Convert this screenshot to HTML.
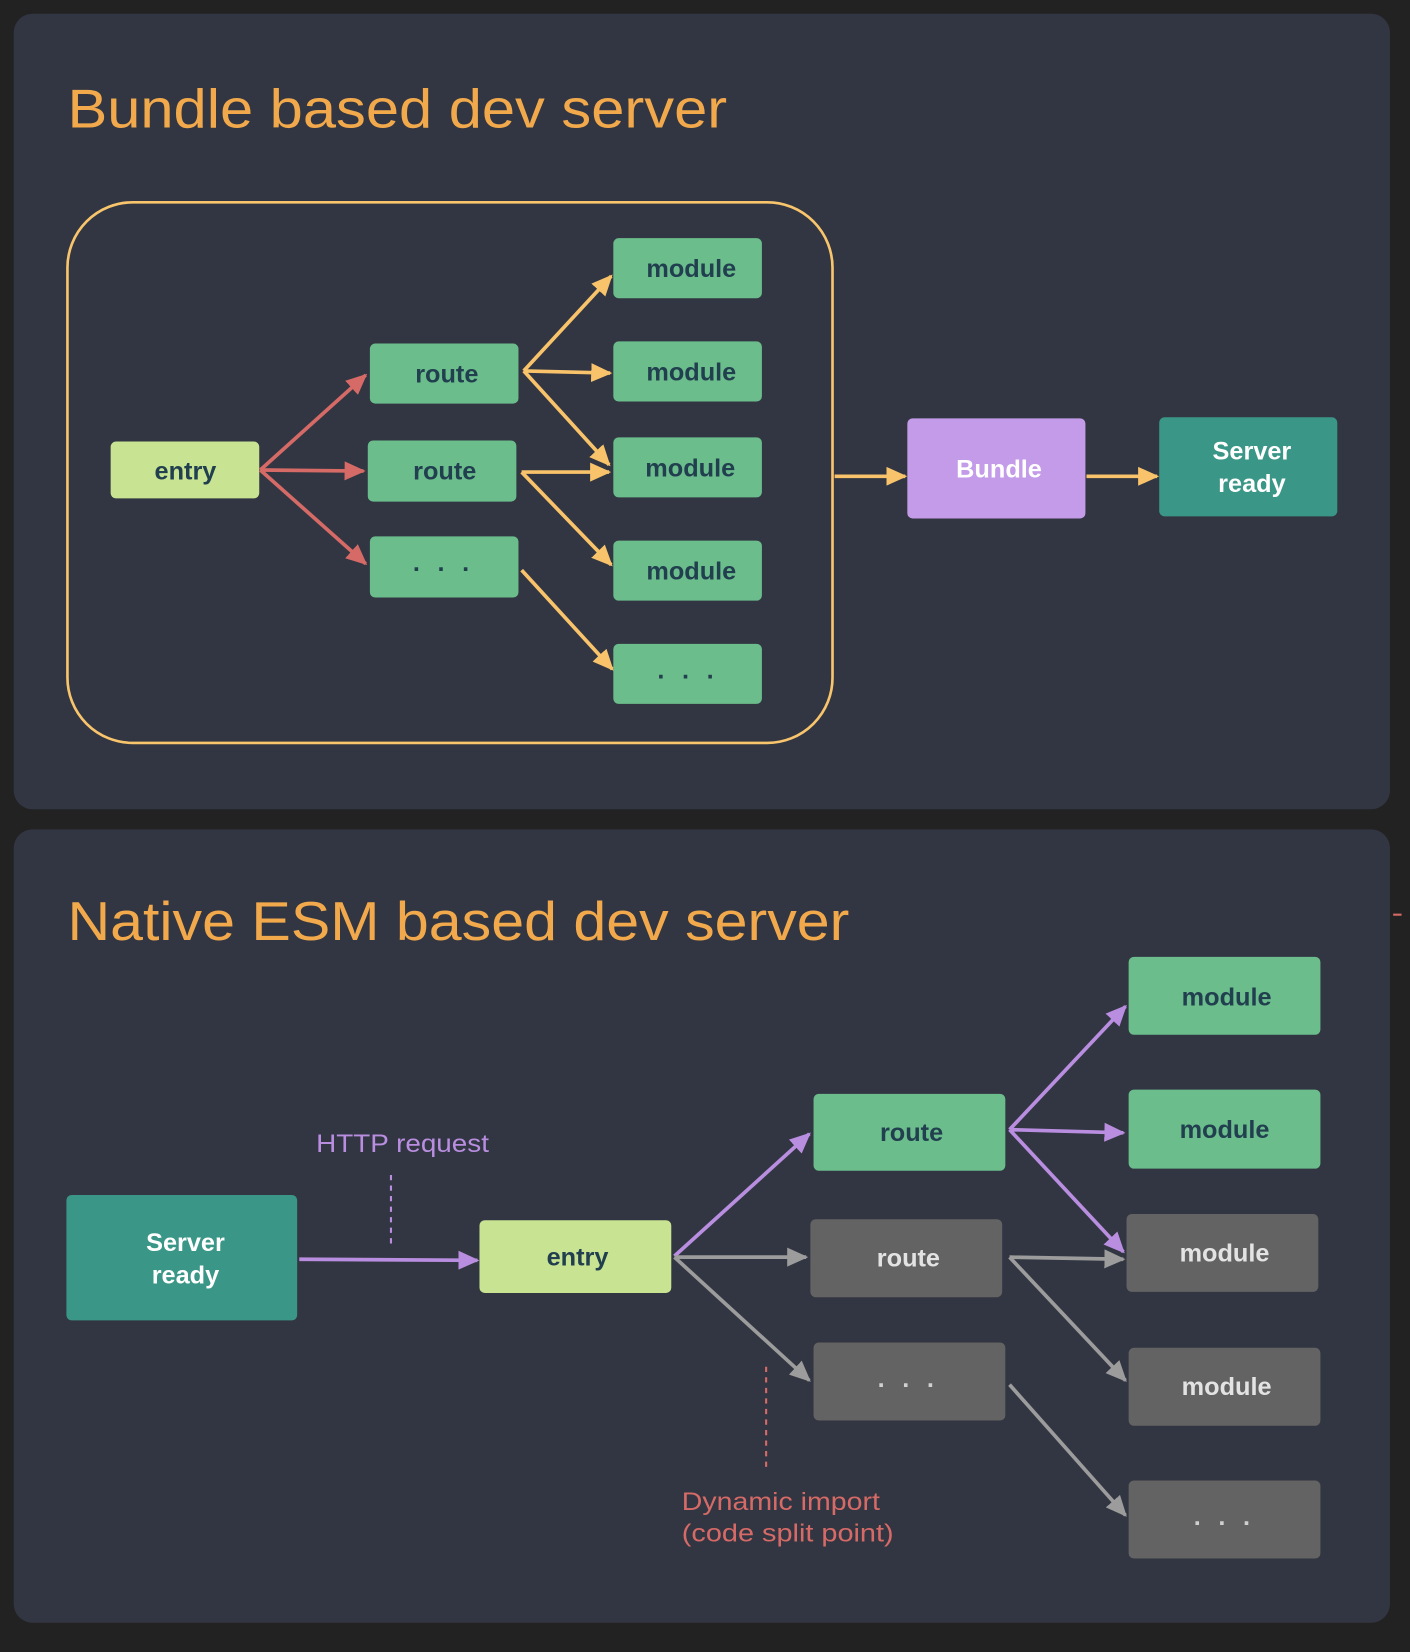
<!DOCTYPE html>
<html><head><meta charset="utf-8"><style>
html,body{margin:0;padding:0;background:#222222;}
svg{display:block}
text{font-family:"Liberation Sans",sans-serif;}
</style></head><body>
<svg width="1410" height="1652" viewBox="0 0 1338 1567.7" preserveAspectRatio="none" xmlns="http://www.w3.org/2000/svg">
<defs>
<marker id="o" markerWidth="20" markerHeight="20" refX="18" refY="10" orient="auto" markerUnits="userSpaceOnUse"><path d="M0,1 L20,10 L0,19 z" fill="#f8c36a"/></marker>
<marker id="rr" markerWidth="20" markerHeight="20" refX="18" refY="10" orient="auto" markerUnits="userSpaceOnUse"><path d="M0,1 L20,10 L0,19 z" fill="#d56a66"/></marker>
<marker id="p" markerWidth="20" markerHeight="20" refX="18" refY="10" orient="auto" markerUnits="userSpaceOnUse"><path d="M0,1 L20,10 L0,19 z" fill="#b98ee0"/></marker>
<marker id="g" markerWidth="20" markerHeight="20" refX="18" refY="10" orient="auto" markerUnits="userSpaceOnUse"><path d="M0,1 L20,10 L0,19 z" fill="#9c9c9c"/></marker>
</defs>
<rect width="1338" height="1568" fill="#222222"/>
<rect x="13" y="13" width="1306" height="755" rx="18" fill="#323642"/>
<rect x="13" y="787" width="1306" height="753" rx="18" fill="#323642"/>
<text x="64" y="121" font-size="52" fill="#f2a94c" textLength="626" lengthAdjust="spacingAndGlyphs">Bundle based dev server</text>
<text x="64" y="892" font-size="52" fill="#f2a94c" textLength="742" lengthAdjust="spacingAndGlyphs">Native ESM based dev server</text>
<rect x="64" y="192" width="726" height="513" rx="62" fill="none" stroke="#f8c56c" stroke-width="2.5"/>

<g font-size="24" font-weight="bold" text-anchor="middle" fill="#213f4f">
<rect x="105" y="419" width="141" height="54" rx="5" fill="#c8e391"/><text x="176" y="455">entry</text>
<rect x="351" y="326" width="141" height="57" rx="5" fill="#6bbd8c"/><text x="424" y="363">route</text>
<rect x="349" y="418" width="141" height="58" rx="5" fill="#6bbd8c"/><text x="422" y="455">route</text>
<rect x="351" y="509" width="141" height="58" rx="5" fill="#6bbd8c"/><text x="421" y="542" letter-spacing="5">. . .</text>
<rect x="582" y="226" width="141" height="57" rx="5" fill="#6bbd8c"/><text x="656" y="263">module</text>
<rect x="582" y="324" width="141" height="57" rx="5" fill="#6bbd8c"/><text x="656" y="361">module</text>
<rect x="582" y="415" width="141" height="57" rx="5" fill="#6bbd8c"/><text x="655" y="452">module</text>
<rect x="582" y="513" width="141" height="57" rx="5" fill="#6bbd8c"/><text x="656" y="550">module</text>
<rect x="582" y="611" width="141" height="57" rx="5" fill="#6bbd8c"/><text x="653" y="644" letter-spacing="5">. . .</text>
<rect x="861" y="397" width="169" height="95" rx="5" fill="#c39be8"/><text x="948" y="453" fill="#fff">Bundle</text>
<rect x="1100" y="396" width="169" height="94" rx="5" fill="#3a9686"/><text x="1188" y="436" fill="#fff">Server</text><text x="1188" y="467" fill="#fff">ready</text>
</g>
<g stroke-width="3.5" fill="none">
<line x1="247" y1="446" x2="347" y2="356" stroke="#d56a66" marker-end="url(#rr)"/>
<line x1="247" y1="446" x2="345" y2="447" stroke="#d56a66" marker-end="url(#rr)"/>
<line x1="247" y1="446" x2="347" y2="535" stroke="#d56a66" marker-end="url(#rr)"/>
<g stroke="#f8c36a">
<line x1="497" y1="352" x2="580" y2="262" marker-end="url(#o)"/>
<line x1="497" y1="352" x2="579" y2="354" marker-end="url(#o)"/>
<line x1="497" y1="352" x2="578" y2="441" marker-end="url(#o)"/>
<line x1="495" y1="448" x2="578" y2="448" marker-end="url(#o)"/>
<line x1="495" y1="448" x2="580" y2="536" marker-end="url(#o)"/>
<line x1="495" y1="541" x2="581" y2="635" marker-end="url(#o)"/>
<line x1="792" y1="452" x2="859" y2="452" marker-end="url(#o)"/>
<line x1="1031" y1="452" x2="1098" y2="452" marker-end="url(#o)"/>
</g>
</g>

<g font-size="24" font-weight="bold" text-anchor="middle" fill="#213f4f">
<rect x="63" y="1134" width="219" height="119" rx="5" fill="#3a9686"/><text x="176" y="1187" fill="#fff">Server</text><text x="176" y="1218" fill="#fff">ready</text>
<rect x="455" y="1158" width="182" height="69" rx="5" fill="#c8e391"/><text x="548" y="1201">entry</text>
<rect x="772" y="1038" width="182" height="73" rx="5" fill="#6bbd8c"/><text x="865" y="1083">route</text>
<rect x="769" y="1157" width="182" height="74" rx="5" fill="#636363"/><text x="862" y="1202" fill="#e3e3e3">route</text>
<rect x="772" y="1274" width="182" height="74" rx="5" fill="#636363"/><text x="862" y="1316" fill="#d0d0d0" letter-spacing="5">. . .</text>
<rect x="1071" y="908" width="182" height="74" rx="5" fill="#6bbd8c"/><text x="1164" y="954">module</text>
<rect x="1071" y="1034" width="182" height="75" rx="5" fill="#6bbd8c"/><text x="1162" y="1080">module</text>
<rect x="1069" y="1152" width="182" height="74" rx="5" fill="#636363"/><text x="1162" y="1197" fill="#e3e3e3">module</text>
<rect x="1071" y="1279" width="182" height="74" rx="5" fill="#636363"/><text x="1164" y="1324" fill="#e3e3e3">module</text>
<rect x="1071" y="1405" width="182" height="74" rx="5" fill="#636363"/><text x="1162" y="1447" fill="#d0d0d0" letter-spacing="5">. . .</text>
</g>
<g stroke-width="3.5" fill="none">
<g stroke="#b98ee0">
<line x1="284" y1="1195" x2="453" y2="1196" marker-end="url(#p)"/>
<line x1="640" y1="1192" x2="768" y2="1076" marker-end="url(#p)"/>
<line x1="958" y1="1072" x2="1068" y2="955" marker-end="url(#p)"/>
<line x1="958" y1="1072" x2="1066" y2="1075" marker-end="url(#p)"/>
<line x1="958" y1="1072" x2="1066" y2="1188" marker-end="url(#p)"/>
</g>
<g stroke="#9c9c9c">
<line x1="640" y1="1193" x2="765" y2="1193" marker-end="url(#g)"/>
<line x1="640" y1="1193" x2="768" y2="1310" marker-end="url(#g)"/>
<line x1="958" y1="1193" x2="1066" y2="1195" marker-end="url(#g)"/>
<line x1="958" y1="1193" x2="1068" y2="1310" marker-end="url(#g)"/>
<line x1="958" y1="1314" x2="1068" y2="1438" marker-end="url(#g)"/>
</g>
<line x1="371" y1="1115" x2="371" y2="1182" stroke="#b98ee0" stroke-width="2" stroke-dasharray="5,5"/>
<line x1="727" y1="1297" x2="727" y2="1395" stroke="#d56a66" stroke-width="2" stroke-dasharray="5,5"/>
<line x1="1322" y1="868" x2="1330" y2="868" stroke="#d56a66" stroke-width="2"/>
</g>
<text x="300" y="1093" font-size="24" fill="#b98ee0" textLength="164" lengthAdjust="spacingAndGlyphs">HTTP request</text>
<text x="647" y="1433" font-size="24" fill="#d56a66" textLength="188" lengthAdjust="spacingAndGlyphs">Dynamic import</text>
<text x="647" y="1463" font-size="24" fill="#d56a66" textLength="201" lengthAdjust="spacingAndGlyphs">(code split point)</text>
</svg>
</body></html>
